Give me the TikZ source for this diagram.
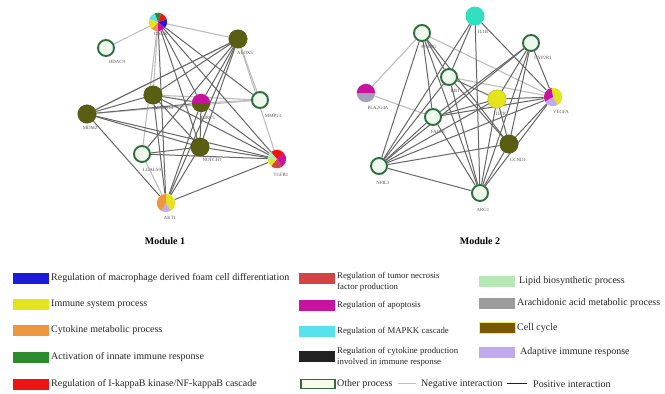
\documentclass[tikz,border=0pt]{standalone}
\usepackage{fontspec}
\setmainfont{Liberation Serif}
\usetikzlibrary{backgrounds}

\definecolor{ringgreen}{HTML}{2F6E3C}
\definecolor{ringfill}{HTML}{EEF9EE}
\definecolor{olivec}{HTML}{5A5E12}
\definecolor{edgedark}{HTML}{666666}
\definecolor{edgelight}{HTML}{BDBDBD}
\definecolor{labgrey}{HTML}{555555}
\definecolor{cBlue}{HTML}{1C1CD8}
\definecolor{cYellow}{HTML}{E4E41C}
\definecolor{cOrange}{HTML}{EE9640}
\definecolor{cGreen}{HTML}{2E8A2E}
\definecolor{cRed}{HTML}{EE1414}
\definecolor{cTnf}{HTML}{D44444}
\definecolor{cMagenta}{HTML}{C8139E}
\definecolor{cCyan}{HTML}{58E2EE}
\definecolor{cBlack}{HTML}{222222}
\definecolor{cLipid}{HTML}{B6E8B6}
\definecolor{cGrey}{HTML}{9C9C9C}
\definecolor{cBrown}{HTML}{7A5800}
\definecolor{cLavender}{HTML}{C2AAEE}
\definecolor{cTeal}{HTML}{30E0C0}
\definecolor{cream}{HTML}{FAFAEA}

% one wedge of a multi-coloured node: node, start angle, end angle, radius, colour
\newcommand\wedgefill[5]{\fill[#5] (#1.center) -- ++(#2:#4) arc[start angle=#2,end angle=#3,radius=#4] -- cycle;}

\begin{document}
\begin{tikzpicture}[x=1pt,y=-1pt,
  ring/.style={circle,draw=ringgreen,line width=1.9pt,fill=ringfill,minimum size=16pt,inner sep=0pt},
  olive/.style={circle,fill=olivec,draw=olivec!85!black,line width=0.4pt,minimum size=18.5pt,inner sep=0pt},
  piebox/.style={circle,minimum size=18.5pt,inner sep=0pt},
  lab/.style={font=\fontsize{4.8}{5}\selectfont,text=labgrey,inner sep=0pt},
  posedge/.style={draw=edgedark,line width=1pt},
  negedge/.style={draw=edgelight,line width=1.1pt},
  swatch/.style={minimum width=36pt,minimum height=11pt,inner sep=0pt},
  legtext/.style={anchor=west,font=\fontsize{10}{11}\selectfont,inner sep=0pt,align=left,text=black!85},
  legsmall/.style={legtext,font=\fontsize{8.8}{10.5}\selectfont},
  modtitle/.style={font=\bfseries\fontsize{10}{11}\selectfont}]

\useasboundingbox (0,0) rectangle (665,394);

% ---------------- Module 1 ----------------
\node[piebox] (stat) at (158,22) {};
\node[ring]   (hdac) at (106,48) {};
\node[olive]  (alox) at (238,39) {};
\node[olive]  (mapk) at (153,95) {};
\node[piebox] (birc) at (201,103) {};
\node[ring]   (mmp)  at (260,100) {};
\node[olive]  (mdm)  at (87,114) {};
\node[olive]  (notch) at (200,147) {};
\node[ring]   (lgal) at (142,154) {};
\node[piebox] (tgfb) at (277,159) {};
\node[piebox] (akt)  at (166,203) {};

% multi-coloured nodes of module 1
\wedgefill{stat}{90}{135}{9.2}{cOrange}
\wedgefill{stat}{135}{200}{9.2}{cYellow}
\wedgefill{stat}{200}{250}{9.2}{cCyan}
\wedgefill{stat}{250}{290}{9.2}{cGreen}
\wedgefill{stat}{290}{345}{9.2}{cRed}
\wedgefill{stat}{345}{400}{9.2}{cBlue}
\wedgefill{stat}{400}{450}{9.2}{cMagenta}

\wedgefill{birc}{0}{180}{9.2}{olivec}
\wedgefill{birc}{180}{360}{9.2}{cMagenta}

\wedgefill{tgfb}{-40}{60}{9.2}{cMagenta}
\wedgefill{tgfb}{60}{130}{9.2}{cTnf}
\wedgefill{tgfb}{130}{180}{9.2}{cYellow}
\wedgefill{tgfb}{180}{230}{9.2}{cLipid}
\wedgefill{tgfb}{230}{320}{9.2}{cRed}

\wedgefill{akt}{-90}{60}{9.2}{cYellow}
\wedgefill{akt}{60}{120}{9.2}{cLavender}
\wedgefill{akt}{120}{270}{9.2}{cOrange}

\node[lab] (lstat)  at (161,34)  {CHUK};
\node[lab] (lhdac)  at (117,62)  {HDAC9};
\node[lab] (lalox)  at (245,53)  {ALOX5};
\node[lab] (lmapk)  at (164,108) {MAPK14};
\node[lab] (lbirc)  at (208,118) {BIRC5};
\node[lab] (lmmp)   at (273,116) {MMP13};
\node[lab] (lmdm)   at (90,128)  {MDM2};
\node[lab] (lnotch) at (212,160) {NOTCH1};
\node[lab] (llgal)  at (152,170) {LGALS9};
\node[lab] (ltgfb)  at (281,175) {TGFB1};
\node[lab] (lakt)   at (170,218) {AKT1};

\node[modtitle] (mod1) at (165,241) {Module 1};

% ---------------- Module 2 ----------------
\node[piebox] (il1b) at (475,16) {};
\fill[cTeal] (il1b.center) circle[radius=9.5];
\node[ring]   (pparg) at (422,33) {};
\node[ring]   (cyp)   at (531,43) {};
\node[ring]   (rb1)   at (449,77) {};
\node[piebox] (pla)   at (366,93) {};
\node[piebox] (il7r)  at (497,99) {};
\fill[cYellow] (il7r.center) circle[radius=9.2];
\draw[cYellow!80!black,line width=0.4pt] (il7r.center) circle[radius=9.2];
\node[piebox] (vegfa) at (553,97) {};
\node[ring]   (fads)  at (433,117) {};
\node[olive]  (ccnd)  at (509,144) {};
\node[ring]   (nfil)  at (379,166) {};
\node[ring]   (arg)   at (480,193) {};

\wedgefill{pla}{0}{180}{9.2}{cGrey!70!cLavender}
\wedgefill{pla}{180}{360}{9.2}{cMagenta}

\wedgefill{vegfa}{-100}{60}{9.2}{cYellow}
\wedgefill{vegfa}{60}{150}{9.2}{cLavender}
\wedgefill{vegfa}{150}{260}{9.2}{cMagenta}

\node[lab] (lil1b)  at (483,32)  {IL1B};
\node[lab] (lpparg) at (429,47)  {PPARG};
\node[lab] (lcyp)   at (543,58)  {CYP2R1};
\node[lab] (lrb1)   at (455,91)  {RB1};
\node[lab] (lpla)   at (378,108) {PLA2G4A};
\node[lab] (lil7r)  at (501,114) {IL7R};
\node[lab] (lvegfa) at (561,112) {VEGFA};
\node[lab] (lfads)  at (438,132) {FADS1};
\node[lab] (lccnd)  at (518,160) {CCND1};
\node[lab] (lnfil)  at (383,183) {NFIL3};
\node[lab] (larg)   at (483,210) {ARG1};

\node[modtitle] (mod2) at (480,241) {Module 2};

% ---------------- connectors (below the nodes) ----------------
\begin{pgfonlayer}{background}
  \fill[white] (0,0) rectangle (665,394);
  % module 1
  \foreach \u/\v in {stat/hdac,stat/alox,mdm/mmp,alox/mmp,alox/tgfb,stat/mapk,mapk/mmp,lgal/akt,mdm/alox,birc/mmp,stat/lgal}
    \draw[negedge] (\u) -- (\v);
  \foreach \u/\v in {stat/akt,stat/birc,stat/notch,stat/mmp,stat/tgfb,
                     alox/mdm,alox/mapk,alox/lgal,alox/akt,alox/notch,alox/birc,
                     mdm/mapk,mdm/birc,mdm/notch,mdm/tgfb,mdm/akt,
                     mapk/birc,mapk/notch,mapk/tgfb,mapk/akt,
                     birc/notch,birc/akt,birc/tgfb,
                     lgal/notch,lgal/tgfb,notch/tgfb,notch/akt,akt/tgfb}
    \draw[posedge] (\u) -- (\v);
  % module 2
  \foreach \u/\v in {pparg/pla,pla/fads,pparg/vegfa,rb1/vegfa}
    \draw[negedge] (\u) -- (\v);
  \foreach \u/\v in {pparg/nfil,pparg/fads,pparg/arg,pparg/rb1,pparg/ccnd,
                     il1b/rb1,il1b/arg,il1b/vegfa,il1b/nfil,
                     cyp/nfil,cyp/fads,cyp/il7r,cyp/vegfa,cyp/arg,cyp/ccnd,
                     rb1/il7r,rb1/arg,rb1/nfil,rb1/ccnd,
                     il7r/vegfa,il7r/nfil,il7r/ccnd,il7r/arg,il7r/fads,
                     vegfa/nfil,vegfa/fads,vegfa/ccnd,vegfa/arg,
                     ccnd/arg,ccnd/nfil,fads/arg,fads/nfil,nfil/arg}
    \draw[posedge] (\u) -- (\v);
\end{pgfonlayer}

% ---------------- legend ----------------
\node[swatch,fill=cBlue]   (s1) at (31,278) {};
\node[legtext] (t1) at (51,278) {Regulation of macrophage derived foam cell differentiation};
\node[swatch,fill=cYellow] (s2) at (31,304) {};
\node[legtext] (t2) at (51,304) {Immune system process};
\node[swatch,fill=cOrange] (s3) at (31,330) {};
\node[legtext] (t3) at (51,330) {Cytokine metabolic process};
\node[swatch,fill=cGreen]  (s4) at (31,357) {};
\node[legtext] (t4) at (51,357) {Activation of innate immune response};
\node[swatch,fill=cRed]    (s5) at (31,384) {};
\node[legtext] (t5) at (51,384) {Regulation of I-kappaB kinase/NF-kappaB cascade};

\node[swatch,fill=cTnf]     (s6) at (317,278) {};
\node[legsmall] (t6) at (337,282) {Regulation of tumor necrosis\\factor production};
\node[swatch,fill=cMagenta] (s7) at (317,305) {};
\node[legsmall] (t7) at (337,305) {Regulation of apoptosis};
\node[swatch,fill=cCyan]    (s8) at (317,331) {};
\node[legsmall] (t8) at (337,331) {Regulation of MAPKK cascade};
\node[swatch,fill=cBlack]   (s9) at (317,356) {};
\node[legsmall] (t9) at (337,357) {Regulation of cytokine production\\involved in immune response};
\node[swatch,fill=cream,draw=ringgreen,line width=1.2pt,minimum width=34pt,minimum height=9pt] (s10) at (318,384) {};
\node[legtext] (t10) at (337,384) {Other process};
\coordinate (n1) at (398,383);
\coordinate (n2) at (416,383);
\draw[negedge,line width=0.8pt] (n1) -- (n2);
\node[legtext] (t11) at (421,384) {Negative interaction};
\coordinate (p1) at (507,383);
\coordinate (p2) at (527,383);
\draw[draw=cBlack,line width=0.9pt] (p1) -- (p2);
\node[legtext] (t12) at (533,384) {Positive interaction};

\node[swatch,fill=cLipid]    (s13) at (497,281) {};
\node[legtext] (t13) at (519,281) {Lipid biosynthetic process};
\node[swatch,fill=cGrey]     (s14) at (497,303) {};
\node[legtext] (t14) at (517,303) {Arachidonic acid metabolic process};
\node[swatch,fill=cBrown,draw=cYellow!70,line width=0.4pt] (s15) at (497,328) {};
\node[legtext] (t15) at (517,328) {Cell cycle};
\node[swatch,fill=cLavender] (s16) at (497,352) {};
\node[legtext] (t16) at (520,352) {Adaptive immune response};

\end{tikzpicture}
\end{document}
